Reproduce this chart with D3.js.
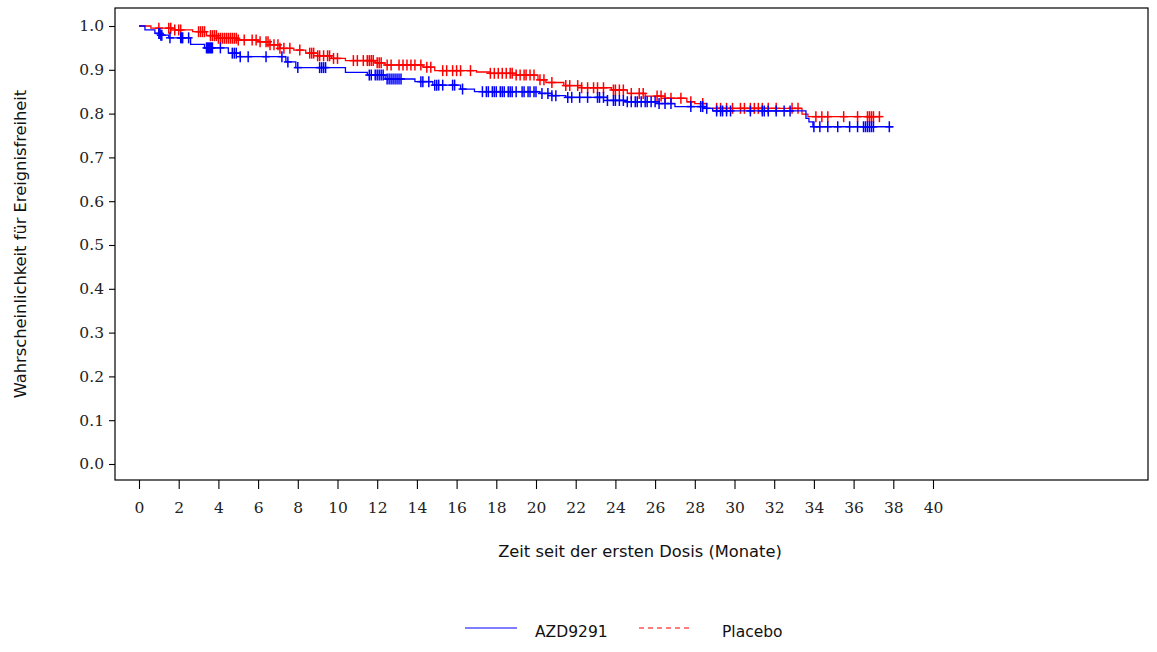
<!DOCTYPE html>
<html><head><meta charset="utf-8">
<script src="https://cdn.jsdelivr.net/npm/d3@7"></script>
<style>
html,body{margin:0;padding:0;background:#fff;}
svg{display:block;}
</style></head>
<body>
<svg id="chart" width="1157" height="652"></svg>
<script>
// ---- data ----
const seriesNames = ["AZD9291", "Placebo"];
const xTickLabels = [0,2,4,6,8,10,12,14,16,18,20,22,24,26,28,30,32,34,36,38,40];
const yTickLabels = [0.0,0.1,0.2,0.3,0.4,0.5,0.6,0.7,0.8,0.9,1.0];

const azdTimes = [0,0.3,0.8,1.06,1.5,2.6,3.3,4.5,5.1,7.4,7.9,10.4,11.5,12.4,13.9,14.8,16.2,16.9,20.2,20.8,21.5,23.6,24.5,26.2,27.0,28.5,28.9,33.6,33.75,33.95];
const azdSurv  = [1.0,0.991,0.983,0.979,0.973,0.958,0.950,0.938,0.930,0.918,0.905,0.894,0.888,0.879,0.873,0.865,0.856,0.850,0.846,0.841,0.837,0.830,0.827,0.823,0.816,0.812,0.806,0.789,0.781,0.770];
const azdEnd = 38.0;
const azdCens = [1.0,1.05,1.1,1.15,1.56,2.1,2.15,2.2,2.5,3.4,3.45,3.5,3.55,3.6,3.65,3.7,4.1,4.7,4.8,4.9,5.1,5.5,6.4,7.2,7.5,8.0,9.1,9.2,9.3,9.4,11.6,11.7,11.9,12.0,12.1,12.2,12.3,12.5,12.6,12.7,12.8,12.9,13.0,13.1,13.2,14.2,14.3,14.6,14.9,15.0,15.1,15.3,15.8,15.9,16.3,17.3,17.5,17.6,17.8,17.9,18.0,18.2,18.3,18.4,18.6,18.7,18.8,19.0,19.3,19.4,19.6,19.7,19.9,20.0,20.3,20.6,20.8,21.0,21.6,21.8,22.2,22.6,23.1,23.2,23.4,23.6,23.9,24.0,24.2,24.4,24.6,24.8,25.0,25.1,25.3,25.5,25.6,25.8,26.0,26.2,26.5,26.8,27.8,28.3,28.4,28.6,29.1,29.3,29.4,29.6,29.8,30.8,31.4,31.5,31.7,32.1,32.5,32.8,34.0,34.3,34.7,35.2,35.8,36.2,36.5,36.6,36.7,36.8,36.9,37.0,37.8];

const plaTimes = [0,0.6,1.8,2.7,3.4,4.0,5.0,6.0,6.6,7.1,7.8,8.4,9.0,9.7,10.4,11.9,12.4,14.3,14.9,17.0,17.7,19.0,20.1,20.5,21.4,22.3,23.8,24.6,25.5,26.5,27.6,28.0,28.6,33.4,33.7];
const plaSurv  = [1.0,0.995,0.991,0.987,0.978,0.972,0.968,0.964,0.957,0.949,0.945,0.938,0.932,0.926,0.921,0.916,0.911,0.906,0.898,0.895,0.892,0.888,0.877,0.871,0.864,0.859,0.854,0.846,0.840,0.835,0.827,0.823,0.812,0.799,0.793];
const plaEnd = 37.3;
const plaCens = [1.0,1.5,1.6,1.8,2.0,2.1,3.0,3.1,3.2,3.3,3.6,3.7,3.8,3.9,4.0,4.1,4.2,4.3,4.4,4.5,4.6,4.7,4.8,4.9,5.0,5.3,5.7,5.9,6.1,6.4,6.5,6.6,6.8,7.0,7.1,7.3,7.6,8.1,8.6,8.7,8.8,9.0,9.1,9.3,9.5,9.6,9.8,10.0,10.8,11.0,11.3,11.5,11.6,11.7,11.8,12.0,12.1,12.2,12.5,12.7,13.1,13.3,13.5,13.7,13.9,14.2,14.5,14.7,15.3,15.5,15.8,16.0,16.2,16.7,17.7,17.9,18.1,18.3,18.5,18.7,18.8,19.0,19.2,19.4,19.5,19.7,19.9,20.2,20.4,20.8,21.5,21.7,22.1,22.3,22.6,22.9,23.1,23.4,23.9,24.0,24.2,24.4,24.8,25.2,25.4,26.1,26.3,26.5,26.8,27.3,27.8,28.4,29.1,29.3,29.6,29.9,30.3,30.5,30.8,31.0,31.2,31.4,31.7,32.1,32.9,33.2,34.1,34.4,34.7,35.5,36.2,36.7,36.8,36.9,37.0,37.3];

const colors = ["#0000ff", "#ff0000"];

// ---- layout ----
const svg = d3.select("#chart");
const frame = {left:115, top:8, right:1148, bottom:480};
const x = d3.scaleLinear().domain([0,40]).range([139,933]);
const y = d3.scaleLinear().domain([0,1]).range([464,26]);

// frame
svg.append("rect").attr("x",frame.left).attr("y",frame.top)
  .attr("width",frame.right-frame.left).attr("height",frame.bottom-frame.top)
  .attr("fill","none").attr("stroke","#000").attr("stroke-width",1.2);

// y axis
const yAxis = d3.axisLeft(y).tickValues(yTickLabels).tickFormat(d3.format(".1f")).tickSize(6).tickPadding(5);
const gy = svg.append("g").attr("transform",`translate(${frame.left},0)`).call(yAxis);
gy.select(".domain").remove();
gy.selectAll("text").attr("font-family","DejaVu Serif").attr("font-size",15.5).attr("fill","#222");

// x axis
const xAxis = d3.axisBottom(x).tickValues(xTickLabels).tickFormat(d3.format("d")).tickSize(9).tickPadding(13);
const gx = svg.append("g").attr("transform",`translate(0,${frame.bottom})`).call(xAxis);
gx.select(".domain").remove();
gx.selectAll("text").attr("font-family","DejaVu Serif").attr("font-size",15.5).attr("fill","#222");
svg.selectAll(".tick line").attr("stroke","#000").attr("stroke-width",1.1);

// axis titles
svg.append("text").attr("x",640).attr("y",557).attr("text-anchor","middle")
  .attr("font-family","DejaVu Sans").attr("font-size",16.3).attr("fill","#111")
  .text("Zeit seit der ersten Dosis (Monate)");
svg.append("text").attr("transform","translate(26,244) rotate(-90)").attr("text-anchor","middle")
  .attr("font-family","DejaVu Sans").attr("font-size",16.3).attr("fill","#111")
  .text("Wahrscheinlichkeit für Ereignisfreiheit");

// curves
function stepPoints(times, surv, end){
  const pts = times.map((t,i)=>[t,surv[i]]);
  pts.push([end, surv[surv.length-1]]);
  return pts;
}
function survAt(times, surv, t){
  const i = d3.bisectRight(times, t) - 1;
  return surv[Math.max(0,i)];
}
const line = d3.line().x(d=>x(d[0])).y(d=>y(d[1])).curve(d3.curveStepAfter);

const series = [
  {times:azdTimes, surv:azdSurv, end:azdEnd, cens:azdCens, color:colors[0]},
  {times:plaTimes, surv:plaSurv, end:plaEnd, cens:plaCens, color:colors[1]}
];
[series[1], series[0]].forEach(s=>{
  svg.append("path").datum(stepPoints(s.times,s.surv,s.end))
    .attr("d",line).attr("fill","none").attr("stroke",s.color).attr("stroke-width",1.3);
  const g = svg.append("g").attr("stroke",s.color).attr("stroke-width",1.5);
  s.cens.forEach(t=>{
    const cx = x(t), cy = y(survAt(s.times,s.surv,t));
    g.append("line").attr("x1",cx).attr("x2",cx).attr("y1",cy-5.5).attr("y2",cy+5.5);
    g.append("line").attr("x1",cx-4).attr("x2",cx+4).attr("y1",cy).attr("y2",cy);
  });
});

// legend
const leg = svg.append("g");
leg.append("line").attr("x1",465).attr("x2",517).attr("y1",628).attr("y2",628)
  .attr("stroke",colors[0]).attr("stroke-width",1.2);
leg.append("text").attr("x",535).attr("y",637).attr("font-family","DejaVu Sans").attr("font-size",15.5)
  .attr("fill","#111").text(seriesNames[0]);
leg.append("line").attr("x1",639).attr("x2",689).attr("y1",628).attr("y2",628)
  .attr("stroke",colors[1]).attr("stroke-width",1.2).attr("stroke-dasharray","5,4");
leg.append("text").attr("x",722).attr("y",637).attr("font-family","DejaVu Sans").attr("font-size",15.5)
  .attr("fill","#111").text(seriesNames[1]);
</script>
</body></html>
